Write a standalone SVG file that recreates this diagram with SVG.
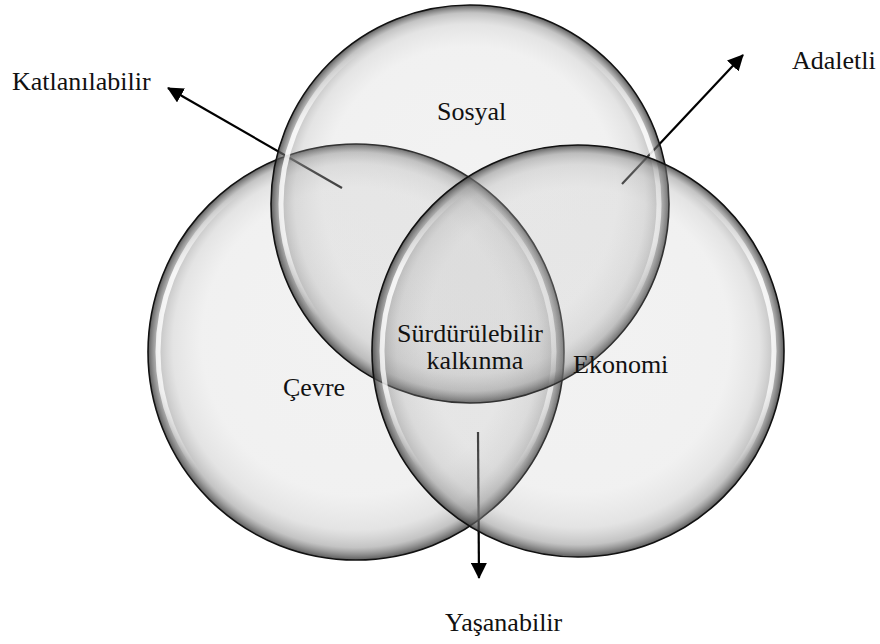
<svg xmlns="http://www.w3.org/2000/svg" width="880" height="644" viewBox="0 0 880 644">
  <style>
    .lbl { font-family: "Liberation Serif", "DejaVu Serif", serif; font-size: 26px; fill: #111; }
    .ring { fill: url(#glass); stroke: #111; stroke-width: 1.6; }
    .hl { fill: none; stroke: url(#shine); stroke-width: 5; }
    .arrow { stroke: #000; stroke-width: 2.2; fill: none; marker-end: url(#head); }
  </style>
  <defs>
    <radialGradient id="glass" cx="0.5" cy="0.5" r="0.5" fx="0.5" fy="0.4">
      <stop offset="0" stop-color="#b8b8b8" stop-opacity="0.18"/>
      <stop offset="0.74" stop-color="#b8b8b8" stop-opacity="0.2"/>
      <stop offset="0.88" stop-color="#a4a4a4" stop-opacity="0.3"/>
      <stop offset="0.95" stop-color="#888888" stop-opacity="0.5"/>
      <stop offset="1" stop-color="#404040" stop-opacity="0.85"/>
    </radialGradient>
    <linearGradient id="shine" x1="0" y1="0" x2="0" y2="1">
      <stop offset="0.1" stop-color="#ffffff" stop-opacity="0"/>
      <stop offset="0.3" stop-color="#ffffff" stop-opacity="0.85"/>
      <stop offset="0.6" stop-color="#ffffff" stop-opacity="0.75"/>
      <stop offset="0.8" stop-color="#ffffff" stop-opacity="0"/>
    </linearGradient>
    <marker id="head" viewBox="0 0 16 16" refX="15" refY="8" markerWidth="16" markerHeight="16" markerUnits="userSpaceOnUse" orient="auto">
      <path d="M0,0 L16,8 L0,16 z" fill="#000"/>
    </marker>
  </defs>
  <rect width="880" height="644" fill="#ffffff"/>

  <g id="connectors">
    <line class="arrow" x1="342" y1="188" x2="168" y2="88"/>
    <line class="arrow" x1="622" y1="184" x2="743" y2="55"/>
    <line class="arrow" x1="478" y1="432" x2="479" y2="578"/>
    <text class="lbl" x="12" y="90">Katlanılabilir</text>
    <text class="lbl" x="792" y="69">Adaletli</text>
    <text class="lbl" x="445" y="631">Yaşanabilir</text>
  </g>

  <g id="node-cevre">
    <circle class="ring" cx="356" cy="352" r="208"/>
    <circle class="hl" cx="356" cy="352" r="198"/>
    <text class="lbl" x="283" y="396">Çevre</text>
  </g>

  <g id="node-sosyal">
    <circle class="ring" cx="470" cy="204" r="199"/>
    <circle class="hl" cx="470" cy="204" r="189"/>
    <text class="lbl" x="437" y="120">Sosyal</text>
  </g>

  <g id="node-ekonomi">
    <circle class="ring" cx="578" cy="351" r="206"/>
    <circle class="hl" cx="578" cy="351" r="196"/>
    <text class="lbl" x="573" y="373">Ekonomi</text>
  </g>

  <g id="node-surdurulebilir">
    <text class="lbl" x="470" y="342" text-anchor="middle">Sürdürülebilir</text>
    <text class="lbl" x="475" y="369" text-anchor="middle">kalkınma</text>
  </g>
</svg>
